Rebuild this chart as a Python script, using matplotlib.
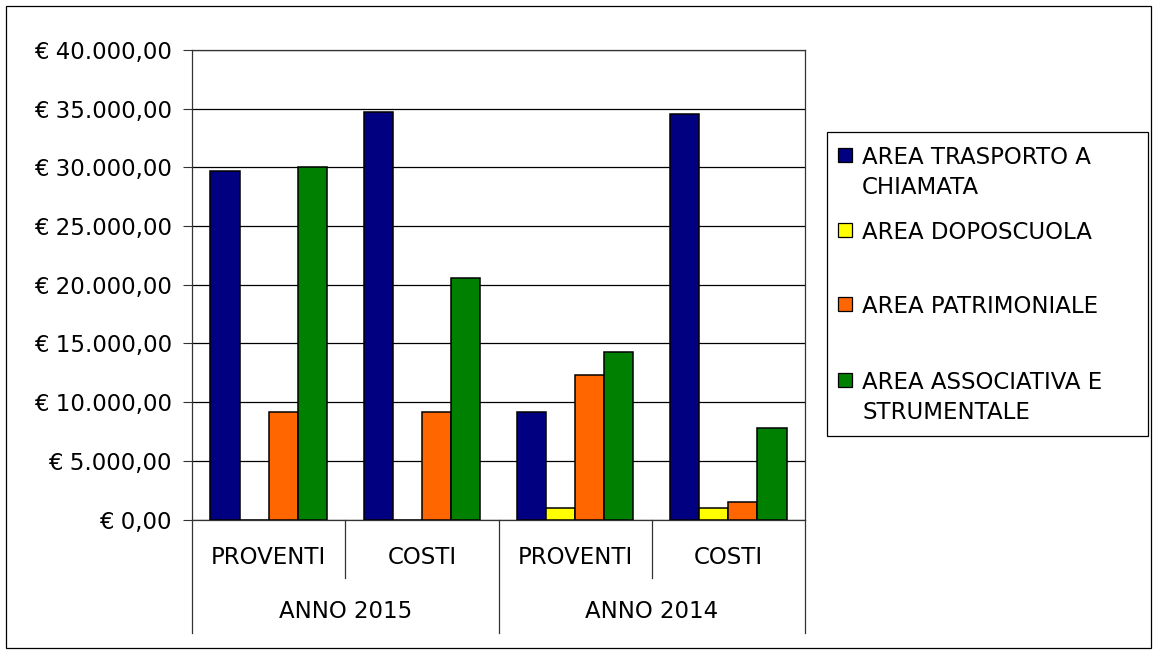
import matplotlib
matplotlib.use("Agg")
import matplotlib.pyplot as plt
import numpy as np
from matplotlib.patches import Rectangle
from matplotlib.ticker import FuncFormatter
import matplotlib.transforms as mtransforms

plt.rcParams['font.family'] = ['DejaVu Sans']

# dati
gruppi = ['PROVENTI', 'COSTI', 'PROVENTI', 'COSTI']
anni = ['ANNO 2015', 'ANNO 2014']
serie = ['AREA TRASPORTO A\nCHIAMATA', 'AREA DOPOSCUOLA',
         'AREA PATRIMONIALE', 'AREA ASSOCIATIVA E\nSTRUMENTALE']
trasporto = [29700, 34750, 9200, 34550]
doposcuola = [0, 0, 1000, 1000]
patrimoniale = [9200, 9200, 12350, 1500]
associativa = [30050, 20550, 14300, 7800]
valori = [trasporto, doposcuola, patrimoniale, associativa]
colori = ['#000080', '#FFFF00', '#FF6600', '#008000']

W, H = 1156, 654
fs = 16.5
fig = plt.figure(figsize=(W / 100, H / 100), dpi=100)

def fx(x):
    return x / W

def fy(y):
    return 1 - y / H

# area del grafico (pixel)
L, R, T, B = 192, 805, 50, 519.5
ax = fig.add_axes([fx(L), fy(B), fx(R - L), (B - T) / H])

x = np.arange(len(gruppi))
w = 0.19
for i, (v, c) in enumerate(zip(valori, colori)):
    ax.bar(x + (i - 1.5) * w, v, w, color=c, edgecolor='black', linewidth=1.1, zorder=3)

ax.set_xlim(-0.5, 3.5)
ax.set_ylim(0, 40000)
ax.set_yticks(np.arange(0, 40001, 5000))

def euro(v, pos):
    s = f"{v:,.2f}".replace(",", "X").replace(".", ",").replace("X", ".")
    return "€ " + s

ax.yaxis.set_major_formatter(FuncFormatter(euro))
ax.tick_params(axis='y', direction='out', length=6.5, width=0.8, pad=8,
               labelsize=fs, color='#333333')
ax.set_xticks([])
ax.grid(axis='y', color='black', linewidth=0.9, zorder=0)
for s in ax.spines.values():
    s.set_color('#333333')
    s.set_linewidth(0.9)

# asse categorie a due livelli
trans = mtransforms.blended_transform_factory(ax.transData, ax.transAxes)
basso_int = (B - 578) / (B - T)
basso_est = (B - 633) / (B - T)
for xv in [0.5, 2.5]:
    ax.plot([xv, xv], [0, basso_int], transform=trans, color='#333333',
            linewidth=0.9, clip_on=False)
for xv in [-0.5, 1.5, 3.5]:
    ax.plot([xv, xv], [0, basso_est], transform=trans, color='#333333',
            linewidth=0.9, clip_on=False)
for xi, g in zip(x, gruppi):
    ax.text(xi, (B - 558) / (B - T), g, transform=trans, ha='center', va='center',
            fontsize=fs)
for k, a in enumerate(anni):
    ax.text(2 * k + 0.5, (B - 611) / (B - T), a, transform=trans, ha='center',
            va='center', fontsize=fs)

# legenda
fig.patches.append(Rectangle((fx(827), fy(436)), fx(1148 - 827), (436 - 132) / H,
                             transform=fig.transFigure, facecolor='white',
                             edgecolor='black', linewidth=0.9))
righe = [155, 230, 304, 380]
for lab, c, yc in zip(serie, colori, righe):
    fig.patches.append(Rectangle((fx(838), fy(yc + 7)), fx(14), 14 / H,
                                 transform=fig.transFigure, facecolor=c,
                                 edgecolor='black', linewidth=0.9))
    fig.text(fx(862), fy(yc - 9), lab, ha='left', va='top', fontsize=fs,
             linespacing=1.4)

# cornice esterna
fig.patches.append(Rectangle((fx(6), fy(648)), fx(1151 - 6), (648 - 6) / H,
                             transform=fig.transFigure, fill=False,
                             edgecolor='black', linewidth=0.9))

fig.savefig('out.png', dpi=100)
